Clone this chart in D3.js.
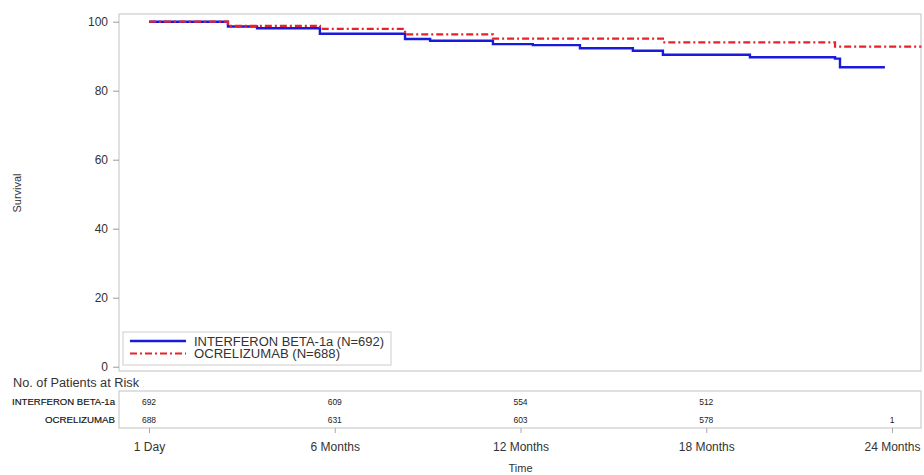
<!DOCTYPE html>
<html><head><meta charset="utf-8">
<script src="https://cdn.jsdelivr.net/npm/d3@7"></script>
<style>
body{margin:0;background:#fff;}
svg{font-family:"Liberation Sans",Arial,sans-serif;}
</style></head>
<body>
<svg id="c" width="924" height="475"></svg>
<script>
// Data (time in months, survival in %)
const seriesNames = ["INTERFERON BETA-1a (N=692)", "OCRELIZUMAB (N=688)"];
const riskLabels = ["INTERFERON BETA-1a", "OCRELIZUMAB"];
const interferonTimes = [0, 2.55, 3.49, 5.52, 8.27, 9.08, 11.11, 12.4, 13.92, 15.63, 16.6, 19.41, 22.16, 22.32, 23.77];
const interferonSurv  = [100, 98.6, 98.1, 96.5, 95.0, 94.5, 93.5, 93.2, 92.3, 91.6, 90.4, 89.7, 89.3, 86.8, 86.8];
const ocreTimes = [0, 2.55, 5.52, 8.27, 11.11, 16.6, 22.16, 24.95];
const ocreSurv  = [100, 98.8, 97.9, 96.3, 95.1, 94.0, 92.8, 92.8];
const tickMonths = [0, 6, 12, 18, 24];
const tickLabels = ["1 Day", "6 Months", "12 Months", "18 Months", "24 Months"];
const yTicks = [0, 20, 40, 60, 80, 100];
const riskInterferon = [692, 609, 554, 512, null];
const riskOcre = [688, 631, 603, 578, 1];

const svg = d3.select("#c");
const frame = {l:119, r:921, t:14, b:371};
const x = d3.scaleLinear().domain([0,24]).range([149, 892]);
const y = d3.scaleLinear().domain([0,100]).range([366.7, 21.7]);
const grey = "#cccccc", txt = "#333";

// plot frame
svg.append("rect").attr("x",frame.l).attr("y",frame.t).attr("width",frame.r-frame.l).attr("height",frame.b-frame.t)
  .attr("fill","none").attr("stroke",grey).attr("stroke-width",1.2);

// y axis
const yAxis = svg.append("g").attr("transform",`translate(${frame.l},0)`)
  .call(d3.axisLeft(y).tickValues(yTicks).tickSize(6).tickPadding(5));
yAxis.select(".domain").remove();
yAxis.selectAll("line").attr("stroke","#999");
yAxis.selectAll("text").attr("font-size",12).attr("fill",txt).style("font-family","inherit");

svg.append("text").attr("transform","translate(21,193) rotate(-90)").attr("text-anchor","middle")
  .attr("font-size",11).attr("fill",txt).text("Survival");

// curves
const line = d3.line().x(d=>x(d[0])).y(d=>y(d[1])).curve(d3.curveStepAfter);
const blueData = interferonTimes.map((t,i)=>[t, interferonSurv[i]]);
const redData = ocreTimes.map((t,i)=>[t, ocreSurv[i]]);
svg.append("path").attr("d",line(blueData)).attr("fill","none").attr("stroke","#1a1adc").attr("stroke-width",2.4);
svg.append("path").attr("d",line(redData)).attr("fill","none").attr("stroke","#e8222a").attr("stroke-width",2.2)
  .attr("stroke-dasharray","7,3,2,3");

// legend
const lg = svg.append("g");
lg.append("rect").attr("x",123).attr("y",332).attr("width",268).attr("height",33)
  .attr("fill","#fff").attr("stroke",grey).attr("stroke-width",1);
const lgColors = ["#1a1adc","#e8222a"], lgDash = [null,"7,3,2,3"], lgW=[2.4,2.2], lgLen=[190,146];
seriesNames.forEach((s,i)=>{
  const yy = 341 + i*12.5;
  lg.append("line").attr("x1",130).attr("x2",186).attr("y1",yy).attr("y2",yy)
    .attr("stroke",lgColors[i]).attr("stroke-width",lgW[i]).attr("stroke-dasharray",lgDash[i]);
  lg.append("text").attr("x",194).attr("y",yy+4.5).attr("font-size",12).attr("fill",txt)
    .attr("textLength",lgLen[i]).attr("lengthAdjust","spacingAndGlyphs").text(s);
});

// risk table
svg.append("text").attr("x",13).attr("y",387).attr("font-size",12).attr("fill",txt)
  .attr("textLength",126).attr("lengthAdjust","spacingAndGlyphs").text("No. of Patients at Risk");
svg.append("rect").attr("x",frame.l).attr("y",391).attr("width",frame.r-frame.l).attr("height",37)
  .attr("fill","none").attr("stroke",grey).attr("stroke-width",1.2);
const rows = [riskInterferon, riskOcre];
rows.forEach((row,ri)=>{
  const yy = 405 + ri*17.5;
  svg.append("text").attr("x",115).attr("y",yy).attr("text-anchor","end").attr("font-size",8.5)
    .attr("fill","#111").attr("stroke","#111").attr("stroke-width",0.15)
    .attr("textLength", ri===0?103:70).attr("lengthAdjust","spacingAndGlyphs").text(riskLabels[ri]);
  row.forEach((v,j)=>{
    if(v===null) return;
    svg.append("text").attr("x",x(tickMonths[j])).attr("y",yy).attr("text-anchor","middle")
      .attr("font-size",8.5).attr("fill","#222").text(v);
  });
});

// x axis
const xAxis = svg.append("g").attr("transform","translate(0,428)")
  .call(d3.axisBottom(x).tickValues(tickMonths).tickFormat((d,i)=>tickLabels[i]).tickSize(5).tickPadding(9));
xAxis.select(".domain").remove();
xAxis.selectAll("line").attr("stroke","#aaa");
xAxis.selectAll("text").attr("font-size",12).attr("fill",txt).style("font-family","inherit");

svg.append("text").attr("x",x(12)).attr("y",472).attr("text-anchor","middle").attr("font-size",11).attr("fill",txt).text("Time");
</script>
</body></html>
